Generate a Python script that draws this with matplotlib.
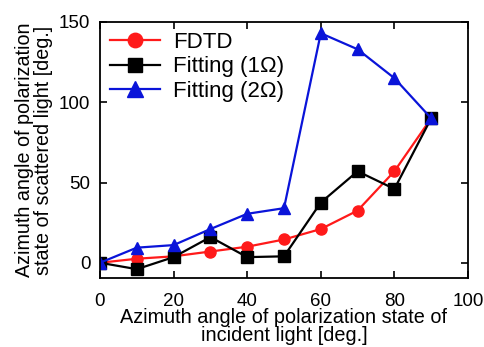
import matplotlib
matplotlib.use("Agg")
import matplotlib.pyplot as plt

plt.rcParams['font.family'] = ['Liberation Sans', 'DejaVu Sans']

x = [0, 10, 20, 30, 40, 50, 60, 70, 80, 90]
fdtd = [0, 2.5, 4, 7, 10, 14.5, 21, 32.5, 57, 90]
fit1 = [0, -4, 3.5, 16, 3.5, 4, 37.5, 57, 46, 90]
fit2 = [0, 9.4, 11, 21, 30.5, 34, 143, 133, 115, 90]
xticks = [0, 20, 40, 60, 80, 100]
yticks = [0, 50, 100, 150]

fig = plt.figure(figsize=(4.85, 3.47), dpi=100)
ax = fig.add_axes([100/485, 1-278/347, 368/485, 256/347])

ax.plot(x, fdtd, color='#ff1a1a', lw=1.6, marker='o', ms=8, label='FDTD')
ax.plot(x, fit1, color='black', lw=1.6, marker='s', ms=8, label='Fitting (1\u03a9)')
ax.plot(x, fit2, color='#0a14d9', lw=1.6, marker='^', ms=9, label='Fitting (2\u03a9)')

ax.set_xlim(0, 100)
ax.set_ylim(-9.5, 150)
ax.set_xticks(xticks)
ax.set_yticks(yticks)
ax.tick_params(direction='in', top=True, right=True, length=5, width=1.2, labelsize=13.5)
ax.tick_params(axis='x', pad=10.5)
ax.tick_params(axis='y', pad=7)
for s in ax.spines.values():
    s.set_linewidth(1.3)

ax.set_xlabel('Azimuth angle of polarization state of\nincident light [deg.]', fontsize=14.3, labelpad=-1, linespacing=0.95)
ax.set_ylabel('Azimuth angle of polarization\nstate of scattered light [deg.]', fontsize=14.2, labelpad=4, linespacing=1.05)

ax.legend(loc='upper left', frameon=False, fontsize=16, handlelength=2.25, borderaxespad=0.25,
          labelspacing=0.15, handletextpad=0.6, borderpad=0.2, markerscale=1.3)

fig.savefig('out.png', dpi=100)
